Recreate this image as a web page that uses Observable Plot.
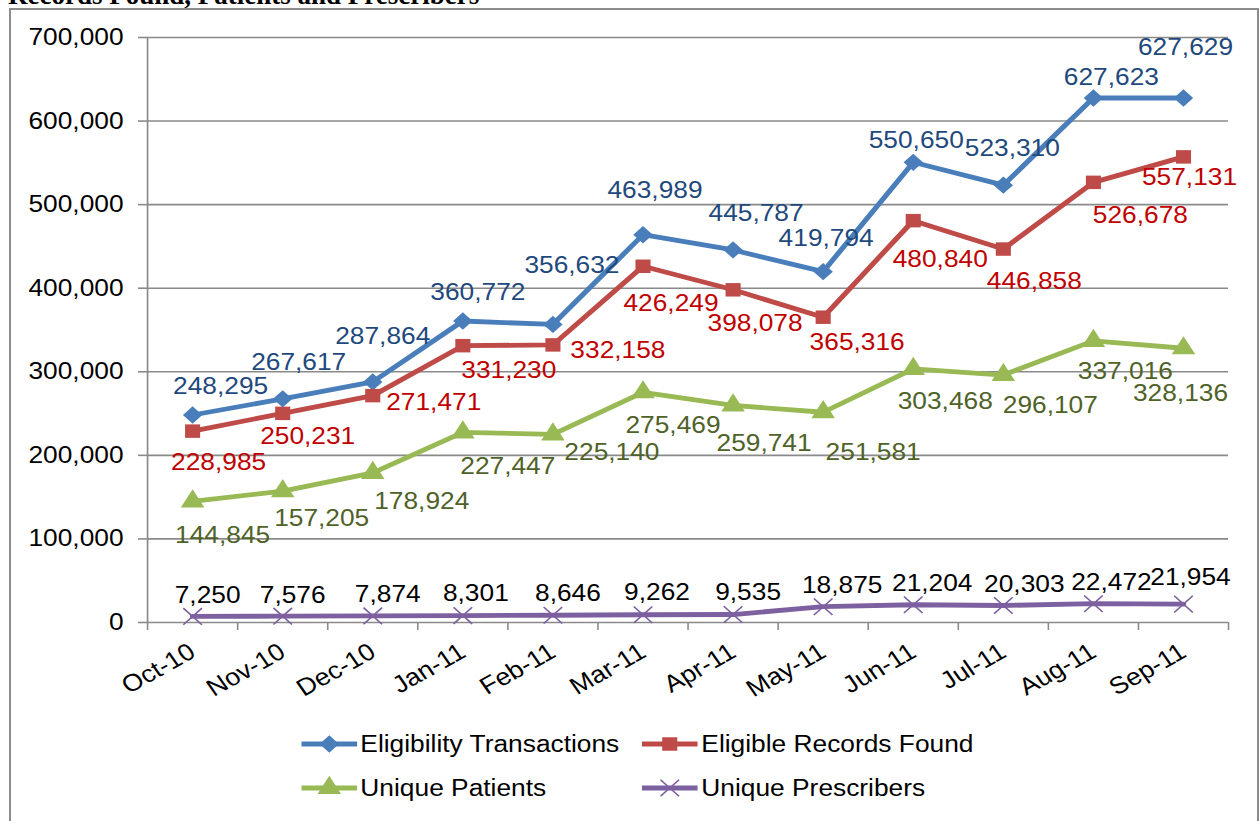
<!DOCTYPE html>
<html>
<head>
<meta charset="utf-8">
<script src="https://cdn.jsdelivr.net/npm/d3@7"></script>
<script src="https://cdn.jsdelivr.net/npm/@observablehq/plot@0.6"></script>
<style>
  html, body { margin: 0; padding: 0; background: #fff; }
  body { width: 1259px; height: 821px; overflow: hidden; position: relative; font-family: "Liberation Sans", Arial, sans-serif; }
  #title { position: absolute; left: 8px; top: -18px; font: bold 27px/27px "Liberation Serif", "Times New Roman", serif; white-space: nowrap; color: #000; }
  #frame { position: absolute; left: 9px; top: 8px; width: 1246px; height: 900px; border: 2px solid #8c8c8c; box-sizing: content-box; }
  #stretch { position: absolute; left: 0; top: 0; height: 821px; transform-origin: 0 0; }
  #chart { position: absolute; left: 0; top: 0; }
  #chart svg { max-width: none !important; }
  .item { position: absolute; display: flex; align-items: center; font-size: 23.5px; color: #000; white-space: nowrap; height: 30px; }
  .item svg { display: block; margin-right: 3px; }
</style>
</head>
<body>
<div id="title">Records Found, Patients and Prescribers</div>
<div id="frame"></div>
<div id="stretch">
  <div id="chart"></div>
  <div id="legend"></div>
</div>
<script>
// ---- data ----
const months = ["Oct-10", "Nov-10", "Dec-10", "Jan-11", "Feb-11", "Mar-11", "Apr-11", "May-11", "Jun-11", "Jul-11", "Aug-11", "Sep-11"];
const eligibilityTransactions = [248295, 267617, 287864, 360772, 356632, 463989, 445787, 419794, 550650, 523310, 627623, 627629];
const eligibleRecordsFound = [228985, 250231, 271471, 331230, 332158, 426249, 398078, 365316, 480840, 446858, 526678, 557131];
const uniquePatients = [144845, 157205, 178924, 227447, 225140, 275469, 259741, 251581, 303468, 296107, 337016, 328136];
const uniquePrescribers = [7250, 7576, 7874, 8301, 8646, 9262, 9535, 18875, 21204, 20303, 22472, 21954];
const seriesNames = ["Eligibility Transactions", "Eligible Records Found", "Unique Patients", "Unique Prescribers"];
const yTicks = [0, 100000, 200000, 300000, 400000, 500000, 600000, 700000];

// ---- styles (separate from data) ----
const S = 1.12; // horizontal stretch of the source picture
const lineColors = ["#4A7EBB", "#BE4B48", "#98B954", "#7D60A0"];
const labelColors = ["#1F497D", "#C00000", "#4F6228", "#000000"];
const symbols = ["diamond2", "square", "triangle", "times"];
const symbolR = [7.8, 7.6, 7.8, 7.6];
const fontSize = 23.5;
// data-label nudges in pixels (relative to each point)
const labelDx = [
  [28, 16, 10, 15, 19, 12, 23, 3, 3, 9, 18, 2],
  [26, 25, 61, 46, 65, 28, 22, 34, 27, 31, 47, 6],
  [30, 39, 49, 45, 59, 30, 31, 50, 32, 47, 32, -3],
  [15, 10, 15, 13, 15, 14, 15, 19, 19, 21, 18, 7]
];
const labelDy = [
  [-29, -36, -45, -29, -59, -44, -36, -33, -22, -37, -21, -51],
  [31, 23, 7, 25, 6, 37, 34, 25, 39, 32, 33, 21],
  [34, 27, 29, 34, 18, 33, 38, 40, 33, 30, 31, 45],
  [-21, -21, -21, -22, -22, -22, -22, -21, -21, -21, -21, -27]
];

const seriesValues = [eligibilityTransactions, eligibleRecordsFound, uniquePatients, uniquePrescribers];
const fmt = d3.format(",");
const rows = seriesValues.map((vals, s) => vals.map((v, i) => ({ i, month: months[i], value: v, series: seriesNames[s], s })));

const W = 1259 / S;
document.getElementById("stretch").style.width = W + "px";

const gridColor = "#8a8a8a";
const marks = [
  Plot.gridY(yTicks, { stroke: gridColor, strokeOpacity: 1, strokeWidth: 1.6 }),
  Plot.ruleX([-0.5], { stroke: gridColor, strokeWidth: 1.5 }),
  Plot.axisY(yTicks, { label: null, tickSize: 9 / S, stroke: gridColor, strokeWidth: 1.6, tickFormat: () => "" }),
  Plot.axisY(yTicks, { label: null, tickSize: 0, tickPadding: 24 / S, tickFormat: fmt, fontSize, fill: "#000" }),
  Plot.axisX(d3.range(-0.5, 12, 1), { label: null, tickSize: 8, stroke: gridColor, strokeWidth: 1.4, tickFormat: () => "" }),
  Plot.axisX(d3.range(12), { label: null, tickSize: 0, tickPadding: 27, tickRotate: -32, tickFormat: i => months[i], fontSize: 24, fill: "#000" })
];

rows.forEach((data, s) => {
  marks.push(Plot.line(data, { x: "i", y: "value", stroke: lineColors[s], strokeWidth: 4.8, strokeLinejoin: "round" }));
});
rows.forEach((data, s) => {
  if (symbols[s] === "times") {
    marks.push(Plot.dot(data, { x: "i", y: "value", symbol: "times", r: symbolR[s], stroke: lineColors[s], strokeWidth: 1.5 }));
  } else {
    marks.push(Plot.dot(data, { x: "i", y: "value", symbol: symbols[s], r: symbolR[s], fill: lineColors[s], stroke: "none" }));
  }
});
rows.forEach((data, s) => {
  data.forEach((d, k) => {
    marks.push(Plot.text([d], {
      x: "i", y: "value", text: dd => fmt(dd.value),
      dx: labelDx[s][k] / S, dy: labelDy[s][k],
      fill: labelColors[s], fontSize, textAnchor: "middle"
    }));
  });
});

const chart = Plot.plot({
  width: W,
  height: 700,
  marginTop: 37,
  marginBottom: 78,
  marginLeft: 147 / S,
  marginRight: 31 / S,
  style: { fontFamily: "'Liberation Sans', Arial, sans-serif", background: "transparent", color: "#000", overflow: "visible", maxWidth: "none" },
  x: { type: "linear", domain: [-0.5, 11.5], axis: null },
  y: { domain: [0, 700000], axis: null },
  marks
});
document.getElementById("chart").appendChild(chart);
document.getElementById("stretch").style.transform = `scaleX(${S})`;

// ---- legend ----
const legend = document.getElementById("legend");
const legendPos = [[301, 744], [642, 744], [301, 788], [642, 788]];
const symMap = { diamond2: d3.symbolDiamond2, square: d3.symbolSquare, triangle: d3.symbolTriangle, times: d3.symbolTimes };
seriesNames.forEach((name, s) => {
  const item = document.createElement("div");
  item.className = "item";
  item.style.left = (legendPos[s][0] / S) + "px";
  item.style.top = (legendPos[s][1] - 15) + "px";
  const w = 56 / S;
  const svg = d3.create("svg").attr("width", w).attr("height", 30);
  svg.append("line").attr("x1", 0).attr("x2", w).attr("y1", 15).attr("y2", 15)
    .attr("stroke", lineColors[s]).attr("stroke-width", 4.8);
  const size = Math.PI * symbolR[s] * symbolR[s];
  const path = svg.append("path").attr("transform", `translate(${w / 2},15)`)
    .attr("d", d3.symbol(symMap[symbols[s]], size)());
  if (symbols[s] === "times") path.attr("fill", "none").attr("stroke", lineColors[s]).attr("stroke-width", 1.5);
  else path.attr("fill", lineColors[s]);
  item.appendChild(svg.node());
  const span = document.createElement("span");
  span.textContent = name;
  item.appendChild(span);
  legend.appendChild(item);
});
</script>
</body>
</html>
